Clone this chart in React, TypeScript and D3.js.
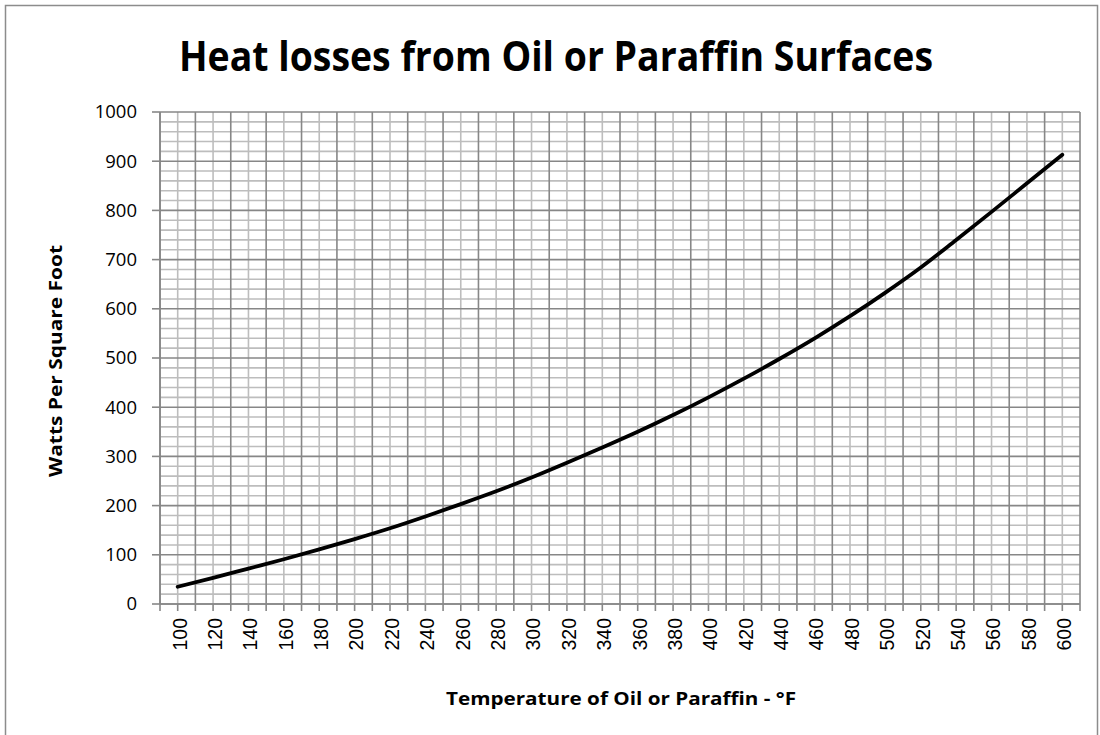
import React from "react";
import * as d3 from "d3";

const temperatures = [100, 120, 140, 160, 180, 200, 220, 240, 260, 280, 300, 320, 340, 360, 380, 400, 420, 440, 460, 480, 500, 520, 540, 560, 580, 600];
const watts = [35, 53, 72, 91, 111, 132, 154, 178, 203, 229, 257, 287, 318, 350, 384, 420, 458, 498, 540, 585, 633, 684, 740, 797, 855, 913];
const yTicks = [0, 100, 200, 300, 400, 500, 600, 700, 800, 900, 1000];
const xTickLabels = [100, 120, 140, 160, 180, 200, 220, 240, 260, 280, 300, 320, 340, 360, 380, 400, 420, 440, 460, 480, 500, 520, 540, 560, 580, 600];
const chartTitle = "Heat losses from Oil or Paraffin Surfaces";
const xTitle = "Temperature of Oil or Paraffin  - °F";
const yTitle = "Watts Per Square Foot";

export default function App() {
  const W = 1100, H = 735;
  const left = 160, right = 1080, top = 112, bottom = 604;
  const x = d3.scaleLinear().domain([90, 610]).range([left, right]);
  const y = d3.scaleLinear().domain([0, 1000]).range([bottom, top]);
  const vLines = d3.range(90, 611, 10);
  const hLines = d3.range(0, 1001, 20);
  const pts = temperatures.map((t, i) => [t, watts[i]] as [number, number]);
  const line = d3.line<[number, number]>().x(d => x(d[0])).y(d => y(d[1])).curve(d3.curveMonotoneX);
  const light = "#bdbdbd", dark = "#878787";
  const isDarkV = (t: number) => (t - 90) % 20 === 0;
  const isDarkH = (v: number) => v % 100 === 0;
  const sw = 1.6;

  return (
    <svg width={W} height={H} style={{ position: "fixed", left: 0, top: 0, background: "#fff" }}>
      <rect x={0} y={0} width={W} height={H} fill="#fff" />
      <path d={`M5.5,${H + 2} V5.5 H1097.5 V${H + 2}`} fill="none" stroke="#8c8c8c" strokeWidth={1.5} />
      <text x={556} y={71} textAnchor="middle" fontFamily="'Liberation Sans Narrow', 'Open Sans', sans-serif" fontWeight="bold" fontSize={41} textLength={754} lengthAdjust="spacingAndGlyphs">{chartTitle}</text>
      {vLines.filter(t => !isDarkV(t)).map(t => (
        <line key={"vl" + t} x1={x(t)} x2={x(t)} y1={top} y2={bottom} stroke={light} strokeWidth={sw} />
      ))}
      {hLines.filter(v => !isDarkH(v)).map(v => (
        <line key={"hl" + v} x1={left} x2={right} y1={y(v)} y2={y(v)} stroke={light} strokeWidth={sw} />
      ))}
      {vLines.filter(t => isDarkV(t)).map(t => (
        <line key={"vd" + t} x1={x(t)} x2={x(t)} y1={top} y2={bottom} stroke={dark} strokeWidth={sw} />
      ))}
      {hLines.filter(v => isDarkH(v)).map(v => (
        <line key={"hd" + v} x1={left} x2={right} y1={y(v)} y2={y(v)} stroke={dark} strokeWidth={sw} />
      ))}
      <line x1={left} x2={left} y1={top} y2={bottom} stroke={dark} strokeWidth={sw} />
      <line x1={left} x2={right} y1={bottom} y2={bottom} stroke={dark} strokeWidth={sw} />
      {yTicks.map(v => (
        <g key={"yt" + v}>
          <line x1={152} x2={left} y1={y(v)} y2={y(v)} stroke={dark} strokeWidth={sw} />
          <text x={137} y={y(v)} dy="0.35em" textAnchor="end" fontFamily="'Open Sans', sans-serif" fontSize={18.5} fill="#000">{v}</text>
        </g>
      ))}
      {vLines.map(t => (
        <line key={"xt" + t} x1={x(t)} x2={x(t)} y1={bottom} y2={bottom + 7} stroke={dark} strokeWidth={sw} />
      ))}
      {xTickLabels.map(t => (
        <text key={"xl" + t} transform={`translate(${x(t) + 2},618) rotate(-90)`} dy="0.35em" textAnchor="end" fontFamily="'Liberation Sans', Arial, sans-serif" fontSize={19.5} fill="#000">{t}</text>
      ))}
      <text transform={`translate(62,361) rotate(-90)`} textAnchor="middle" fontFamily="'Open Sans', sans-serif" fontWeight="bold" fontSize={17} textLength={232} lengthAdjust="spacingAndGlyphs">{yTitle}</text>
      <text x={621} y={705} textAnchor="middle" fontFamily="'Open Sans', sans-serif" fontWeight="bold" fontSize={17.5} textLength={350} lengthAdjust="spacingAndGlyphs">{xTitle}</text>
      <path d={line(pts) || ""} fill="none" stroke="#c0504d" strokeWidth={2} />
      <path d={line(pts) || ""} fill="none" stroke="#000" strokeWidth={3.8} strokeLinejoin="round" strokeLinecap="round" />
    </svg>
  );
}
